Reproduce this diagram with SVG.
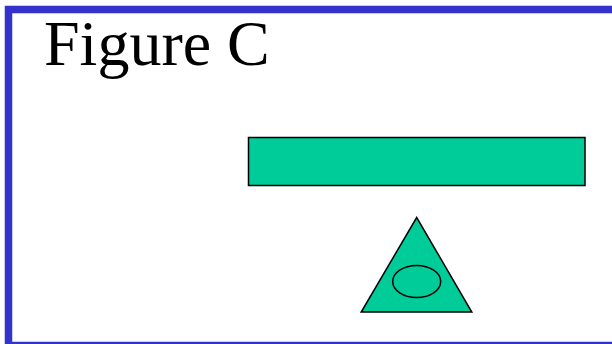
<svg xmlns="http://www.w3.org/2000/svg" width="612" height="344" viewBox="0 0 612 344">
  <style>
    .shape { fill: #00CC99; stroke: #000000; stroke-width: 1.5; }
    .title { font-family: "Liberation Serif", "Times New Roman", serif; font-size: 64px; fill: #000000; }
  </style>
  <rect x="0" y="0" width="612" height="344" fill="#ffffff"/>
  <rect id="frame" x="8.5" y="9.5" width="610" height="336" fill="none" stroke="#3333CC" stroke-width="7.5"/>
  <g id="title">
    <text class="title" x="44" y="65">Figure C</text>
  </g>
  <g id="bar">
    <rect class="shape" x="248.5" y="137.5" width="336.5" height="48"/>
  </g>
  <g id="triangle">
    <polygon class="shape" points="416.7,217.5 361.2,312 471.8,312"/>
    <ellipse cx="416.7" cy="281.5" rx="24" ry="16" fill="none" stroke="#000000" stroke-width="1.5"/>
  </g>
  <g id="connectors"></g>
</svg>
